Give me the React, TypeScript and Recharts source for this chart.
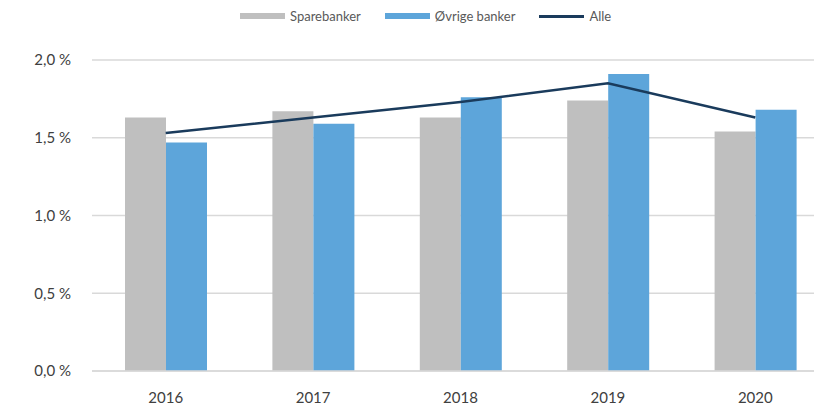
import { ComposedChart, Bar, Line, XAxis, YAxis, CartesianGrid, Legend } from "recharts"

const years = ["2016", "2017", "2018", "2019", "2020"]
const sparebanker = [1.63, 1.67, 1.63, 1.74, 1.54]
const ovrigeBanker = [1.47, 1.59, 1.76, 1.91, 1.68]
const alle = [1.53, 1.63, 1.73, 1.85, 1.63]
const yTicks = [0, 0.5, 1, 1.5, 2]

const colors = {
  spare: "#BFBFBF",
  ovrige: "#5DA5DA",
  alle: "#1A3B5C",
}

const data = years.map((year, i) => ({
  year,
  spare: sparebanker[i],
  ovrige: ovrigeBanker[i],
  alle: alle[i],
}))

const fmt = (v: number) => v.toFixed(1).replace(".", ",") + " %"

const legendItems = [
  { label: "Sparebanker", color: colors.spare, h: 6 },
  { label: "Øvrige banker", color: colors.ovrige, h: 6 },
  { label: "Alle", color: colors.alle, h: 3 },
]

function LegendBox() {
  return (
    <div style={{ display: "flex", alignItems: "center", height: 24, paddingLeft: 240, fontSize: 13, color: "#595959" }}>
      {legendItems.map((it) => (
        <div key={it.label} style={{ display: "flex", alignItems: "center", marginRight: 24 }}>
          <span style={{ display: "inline-block", width: 45, height: it.h, background: it.color, marginRight: 5 }} />
          <span>{it.label}</span>
        </div>
      ))}
    </div>
  )
}

export default function App() {
  return (
    <div style={{ position: "absolute", left: 0, top: 0, width: 814, height: 408, overflow: "hidden", background: "#fff", fontFamily: "Lato, sans-serif" }}>
      <ComposedChart width={830} height={408} data={data} margin={{ top: 36, right: 1, bottom: 0, left: 0 }} barGap={0}>
        <CartesianGrid vertical={false} stroke="#D9D9D9" strokeWidth={1.5} />
        <XAxis
          dataKey="year"
          height={37}
          axisLine={{ stroke: "#D9D9D9", strokeWidth: 1.5 }}
          tickLine={false}
          tickSize={0}
          tickMargin={21}
          tick={{ fill: "#404040", fontSize: 15 }}
        />
        <YAxis
          width={92}
          domain={[0, 2]}
          ticks={yTicks}
          tickFormatter={fmt}
          axisLine={false}
          tickLine={false}
          tickSize={0}
          tickMargin={21}
          tick={{ fill: "#404040", fontSize: 15 }}
        />
        <Legend verticalAlign="top" content={() => <LegendBox />} wrapperStyle={{ top: 4, left: 0, width: 830 }} />
        <Bar dataKey="spare" name="Sparebanker" fill={colors.spare} barSize={41} isAnimationActive={false} />
        <Bar dataKey="ovrige" name="Øvrige banker" fill={colors.ovrige} barSize={41} isAnimationActive={false} />
        <Line dataKey="alle" name="Alle" type="linear" stroke={colors.alle} strokeWidth={2.5} dot={false} activeDot={false} isAnimationActive={false} />
      </ComposedChart>
    </div>
  )
}
